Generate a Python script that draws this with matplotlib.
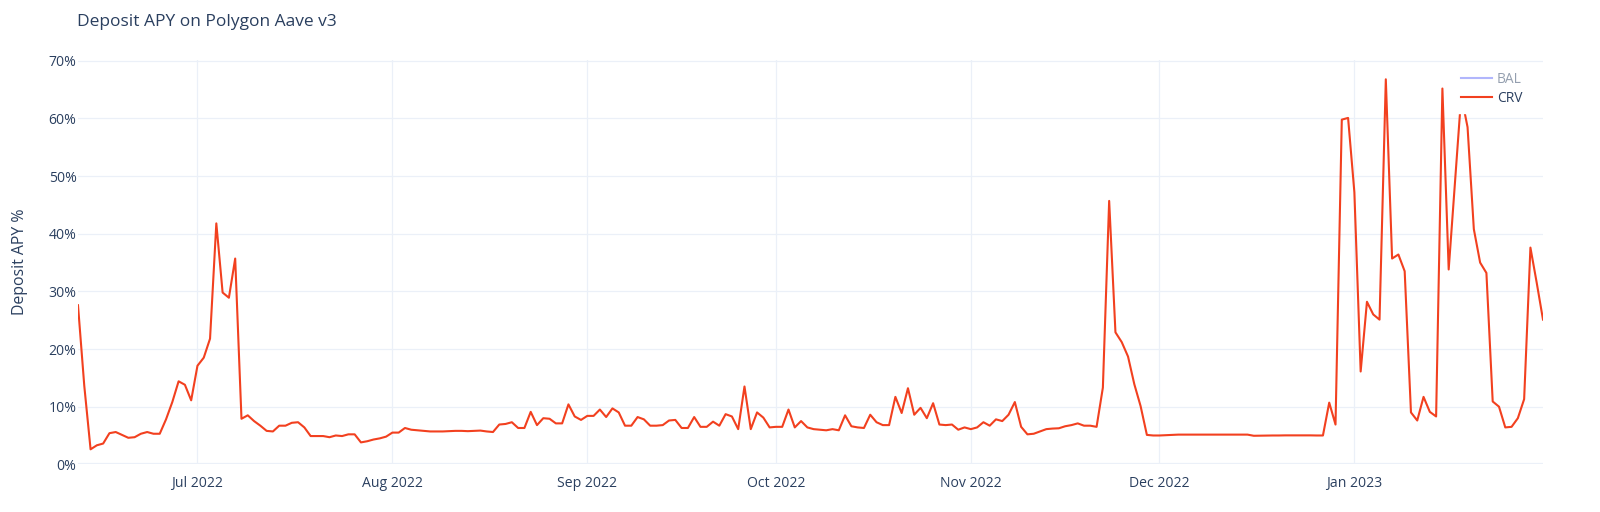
import numpy as np
import pandas as pd
import matplotlib
matplotlib.use("Agg")
import matplotlib.pyplot as plt
from matplotlib.lines import Line2D
from matplotlib.ticker import FuncFormatter

plt.rcParams['font.family'] = ['Open Sans', 'DejaVu Sans']

# ---------------- data ----------------
title = "Deposit APY on Polygon Aave v3"
y_label = "Deposit APY %"
series_names = ["BAL", "CRV"]
start_date = "2022-06-12"
end_date = "2023-01-31"

crv_jun = [27.6, 13.6, 2.6, 3.3, 3.6, 5.4, 5.6, 5.1, 4.6, 4.7, 5.3, 5.6, 5.3, 5.3,
           7.8, 10.8, 14.4, 13.8, 11.1]
crv_jul = [17.1, 18.5, 21.8, 41.8, 29.8, 28.9, 35.7, 7.9, 8.5, 7.5, 6.7, 5.8, 5.7, 6.7,
           6.7, 7.2, 7.3, 6.4, 4.9, 4.9, 4.9, 4.7, 5.0, 4.9, 5.2, 5.2, 3.8, 4.0, 4.3,
           4.5, 4.8]
crv_aug = [5.5, 5.5, 6.3, 6.0, 5.9, 5.8, 5.7, 5.7, 5.7, 5.75, 5.8, 5.8, 5.75, 5.8,
           5.85, 5.7, 5.6, 6.9, 7.0, 7.3, 6.3, 6.3, 9.1, 6.8, 8.0, 7.9, 7.1, 7.1, 10.4,
           8.3, 7.7]
crv_sep = [8.4, 8.4, 9.5, 8.2, 9.7, 9.0, 6.7, 6.7, 8.2, 7.8, 6.7, 6.7, 6.8, 7.6, 7.7,
           6.3, 6.3, 8.2, 6.5, 6.5, 7.4, 6.7, 8.7, 8.3, 6.1, 13.5, 6.1, 9.0, 8.1, 6.4]
crv_oct = [6.5, 6.5, 9.5, 6.4, 7.5, 6.4, 6.1, 6.0, 5.9, 6.1, 5.9, 8.5, 6.6, 6.4, 6.3,
           8.6, 7.3, 6.8, 6.8, 11.7, 8.9, 13.2, 8.6, 9.8, 8.0, 10.6, 6.9, 6.8, 6.9,
           6.0, 6.4]
crv_nov = [6.1, 6.4, 7.3, 6.7, 7.8, 7.5, 8.6, 10.8, 6.5, 5.2, 5.3, 5.7, 6.1, 6.2,
           6.25, 6.6, 6.8, 7.1, 6.7, 6.7, 6.5, 13.3, 45.7, 22.9, 21.2, 18.7, 13.9,
           10.1, 5.1, 5.0]
crv_dec = [5.0, 5.05, 5.1, 5.15, 5.15, 5.15, 5.15, 5.15, 5.15, 5.15, 5.15, 5.15,
           5.15, 5.15, 5.15, 4.95, 4.97, 5.0, 5.0, 5.0, 5.02, 5.02, 5.02, 5.02, 5.02,
           5.0, 5.0, 10.7, 6.9, 59.8, 60.1]
crv_jan = [47.2, 16.1, 28.2, 26.0, 25.1, 66.8, 35.7, 36.4, 33.5, 9.0, 7.6, 11.7, 9.1,
           8.3, 65.2, 33.8, 48.8, 64.0, 58.5, 40.8, 35.0, 33.2, 10.9, 10.0, 6.4, 6.5,
           8.0, 11.3, 37.6, 31.5, 25.1]

x_tick_dates = ["2022-07-01", "2022-08-01", "2022-09-01", "2022-10-01",
                "2022-11-01", "2022-12-01", "2023-01-01"]
x_tick_labels = ["Jul 2022", "Aug 2022", "Sep 2022", "Oct 2022",
                 "Nov 2022", "Dec 2022", "Jan 2023"]
y_ticks = [0, 10, 20, 30, 40, 50, 60, 70]

crv_values = crv_jun + crv_jul + crv_aug + crv_sep + crv_oct + crv_nov + crv_dec + crv_jan
dates = pd.date_range(start_date, end_date, freq="D")
assert len(dates) == len(crv_values)

# ---------------- style ----------------
text_color = "#2a3f5f"
grid_color = "#EBF0F8"
crv_color = "#F2401F"
bal_color = "#B1B6FC"
bal_text = "#949FAF"

fig = plt.figure(figsize=(16, 5.12), dpi=100)
ax = fig.add_axes([78 / 1600, (512 - 464.3) / 512, (1543 - 78) / 1600, (464.3 - 59.7) / 512])

ax.plot(dates, crv_values, color=crv_color, lw=1.5, zorder=3, solid_joinstyle="round")

ax.set_xlim(dates[0], dates[-1])
ax.set_ylim(0, 70.2)
ax.set_xticks(pd.to_datetime(x_tick_dates))
ax.set_xticklabels(x_tick_labels)
ax.set_yticks(y_ticks)
ax.yaxis.set_major_formatter(FuncFormatter(lambda v, p: f"{int(v)}%"))

ax.grid(True, color=grid_color, lw=0.9, zorder=0)
ax.set_axisbelow(True)
ax.axhline(0, color=grid_color, lw=1.6, zorder=1)
for s in ax.spines.values():
    s.set_visible(False)
ax.tick_params(axis="both", length=0, labelsize=10.1, colors=text_color)
ax.tick_params(axis="x", pad=8.5)
ax.tick_params(axis="y", pad=1)

fig.text(77 / 1600, 1 - 22 / 512, title, ha="left", va="center",
         fontsize=12.5, color=text_color)
fig.text(20.5 / 1600, 1 - 262 / 512, y_label, ha="center", va="center",
         rotation=90, fontsize=11.4, color=text_color)

handles = [Line2D([], [], color=bal_color, lw=1.5),
           Line2D([], [], color=crv_color, lw=1.5)]
leg = ax.legend(handles, series_names, loc="upper left",
                bbox_to_anchor=(1454 / 1600, 1 - 65 / 512),
                bbox_transform=fig.transFigure, fontsize=9.9,
                frameon=True, framealpha=1, facecolor="white", edgecolor="white",
                fancybox=False, borderpad=0.5, borderaxespad=0,
                handlelength=2.25, handletextpad=0.36, labelspacing=0.32)
leg.set_zorder(10)
leg.get_texts()[0].set_color(bal_text)
leg.get_texts()[1].set_color(text_color)

fig.savefig("out.png", dpi=100, facecolor="white")
